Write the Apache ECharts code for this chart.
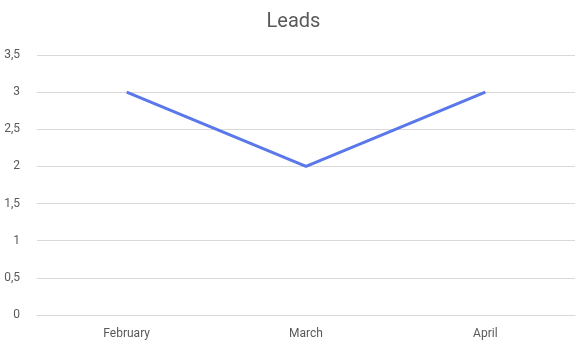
<!DOCTYPE html>
<html><head><meta charset="utf-8">
<script src="https://cdn.jsdelivr.net/npm/echarts@6/dist/echarts.min.js"></script>
<style>html,body{margin:0;padding:0;background:#fff}#c{width:587px;height:346px}</style>
</head><body><div id="c"></div>
<script>
const categories = ['February', 'March', 'April'];
const leads = [3, 2, 3];
const chart = echarts.init(document.getElementById('c'), null, {renderer: 'canvas'});
chart.setOption({
  animation: false,
  title: {text: 'Leads', left: 'center', top: 7, textStyle: {fontFamily: 'Roboto', fontSize: 20, fontWeight: 'normal', color: '#595959'}},
  grid: {left: 37, right: 12, top: 55, bottom: 31, containLabel: false},
  xAxis: {type: 'category', data: categories, boundaryGap: true,
    axisLine: {show: true, lineStyle: {color: '#d9d9d9'}}, axisTick: {show: false},
    axisLabel: {color: '#595959', fontFamily: 'Roboto', fontSize: 12, margin: 13}},
  yAxis: {type: 'value', min: 0, max: 3.5, interval: 0.5,
    axisLine: {show: false}, axisTick: {show: false},
    splitLine: {lineStyle: {color: '#d9d9d9'}},
    axisLabel: {color: '#595959', fontFamily: 'Roboto', fontSize: 12, margin: 17,
      formatter: v => String(v).replace('.', ',')}},
  series: [{type: 'line', data: leads, symbol: 'none', lineStyle: {color: '#5b78ea', width: 3}}]
});
</script></body></html>
